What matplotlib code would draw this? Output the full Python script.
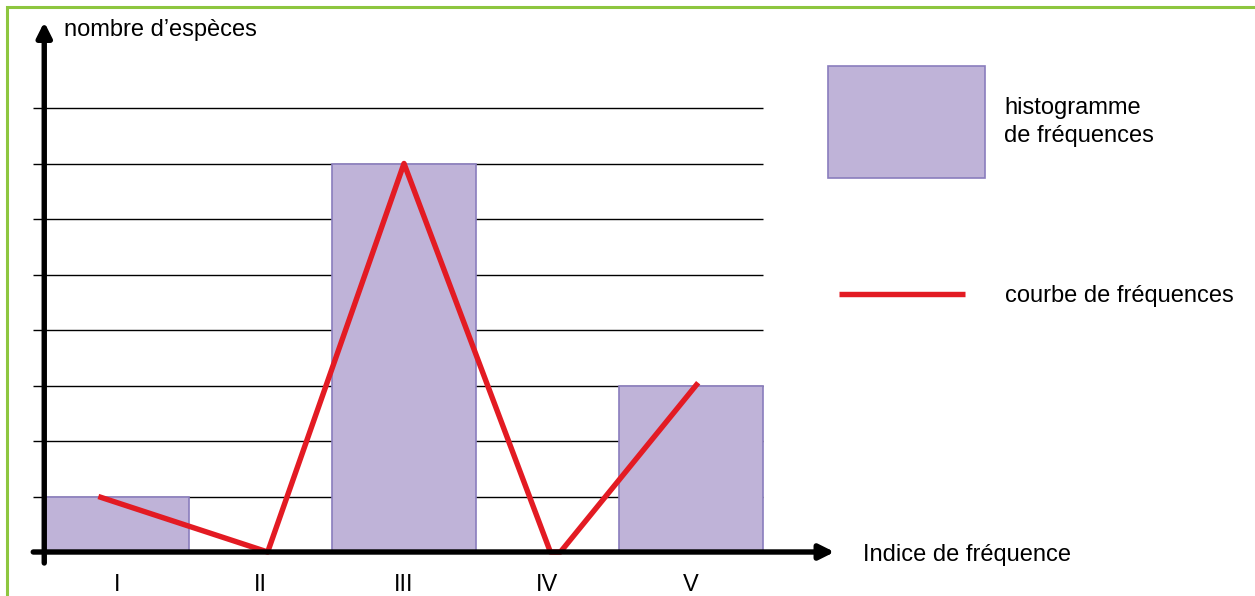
import matplotlib.pyplot as plt
from matplotlib.patches import Rectangle

plt.rcParams['font.family'] = ['Liberation Sans', 'DejaVu Sans']

# données
categories = ['I', 'II', 'III', 'IV', 'V']
bar_values = [1, 0, 7, 0, 3]
curve_x = [-0.13, 1.05, 2.0, 3.02, 3.09, 4.05]
curve_y = [1, 0, 7, 0, 0, 3.05]
grid_levels = [1, 2, 3, 4, 5, 6, 7, 8]

bar_color = '#bfb3d8'
bar_edge = '#8a7dbd'
red = '#e31b23'
green = '#8dc63f'
fs = 17

W, H = 1255, 596
fig = plt.figure(figsize=(W / 100, H / 100), dpi=100)
ax = fig.add_axes([0, 0, 1, 1])
ax.axis('off')

# pixel -> data : x0 = 117 px, 143.5 px par classe ; y0 = 552 px, 55.5 px par unité
px, py = 143.5, 55.5
ax.set_xlim(-117 / px, (W - 117) / px)
ax.set_ylim(-(H - 552) / py, 552 / py)

# cadre vert
fig.patches.append(Rectangle((7 / W, -0.1), 1.2, (H - 7) / H + 0.1, transform=fig.transFigure,
                             fill=False, edgecolor=green, lw=2.2))

# grille horizontale + petites graduations
x_left = -0.5 - 12 / px
for g in grid_levels:
    ax.plot([x_left, 4.5], [g, g], color='black', lw=1.0, solid_capstyle='butt', zorder=1)

# histogramme
ax.bar(range(len(categories)), bar_values, width=1.0, color=bar_color,
       edgecolor=bar_edge, linewidth=1.2, zorder=2)

# courbe de fréquences
ax.plot(curve_x, curve_y, color=red, lw=3.9, solid_capstyle='butt', zorder=3)

# axes avec flèches
ax.annotate('', xy=(5.0, 0), xytext=(x_left, 0),
            arrowprops=dict(arrowstyle='-|>', lw=3.9, color='black',
                            mutation_scale=22, shrinkA=0, shrinkB=0), zorder=4)
ax.annotate('', xy=(-0.5 - 1 / px, 530 / py), xytext=(-0.5 - 1 / px, -11 / py),
            arrowprops=dict(arrowstyle='-|>', lw=3.9, color='black',
                            mutation_scale=22, shrinkA=0, shrinkB=0), zorder=4)

# étiquettes des classes
for i, c in enumerate(categories):
    ax.text(i, -33 / py, c, ha='center', va='center', fontsize=fs)

ax.text(-117 / px + 64 / px, (552 - 30) / py, 'nombre d\u2019espèces',
        ha='left', va='center', fontsize=fs)
ax.text((863 - 117) / px, -3 / py, 'Indice de fréquence', ha='left', va='center', fontsize=fs)

# légende
ax.add_patch(Rectangle(((828 - 117) / px, (552 - 178) / py), 157 / px, 112 / py,
                       facecolor=bar_color, edgecolor=bar_edge, lw=1.2))
ax.text((1004 - 117) / px, (552 - 122) / py, 'histogramme\nde fréquences',
        ha='left', va='center', fontsize=fs, linespacing=1.35)
ax.plot([(839 - 117) / px, (965 - 117) / px], [(552 - 294) / py] * 2, color=red, lw=3.9,
        solid_capstyle='butt')
ax.text((1005 - 117) / px, (552 - 296) / py, 'courbe de fréquences',
        ha='left', va='center', fontsize=fs)

fig.savefig('out.png', dpi=100)
